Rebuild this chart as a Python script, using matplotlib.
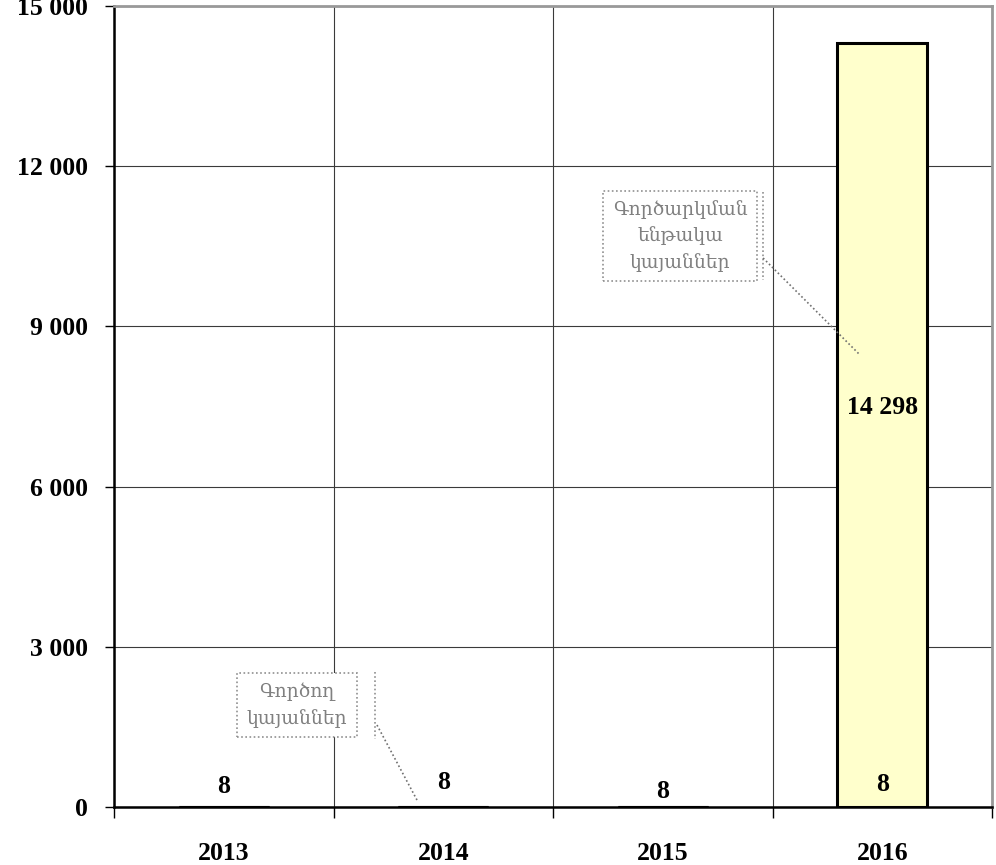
import matplotlib.pyplot as plt

years = ['2013', '2014', '2015', '2016']
gortsogh = [8, 8, 8, 8]               # Գործող կայաններ
gortsarkman = [0, 0, 0, 14298]        # Գործարկման ենթակա կայաններ
y_ticks = [0, 3000, 6000, 9000, 12000, 15000]

def fmt(v):
    return f"{v:,}".replace(',', ' ')

fig = plt.figure(figsize=(9.96, 8.65), dpi=100)
ax = fig.add_axes([0.1145, 0.067, 0.8815, 0.926])

x = range(len(years))
fill = '#FFFFCC'
ax.bar(x, gortsogh, width=0.41, color=fill, edgecolor='black', linewidth=2.2, zorder=3)
ax.bar(x, gortsarkman, width=0.41, bottom=gortsogh, color=fill, edgecolor='black', linewidth=2.2, zorder=3)

ax.set_xlim(-0.5, 3.5)
ax.set_ylim(0, 15000)

lab_font = dict(family=['Liberation Serif', 'DejaVu Serif'], weight='bold', size=18.5)

# y axis
ax.set_yticks(y_ticks)
ax.set_yticklabels([fmt(v) for v in y_ticks], **lab_font)
ax.tick_params(axis='y', direction='out', length=6.5, width=1, pad=12)

# x axis: ticks on category borders, labels on categories
ax.set_xticks([-0.5, 0.5, 1.5, 2.5, 3.5])
ax.set_xticklabels([])
ax.set_xticks(list(x), minor=True)
ax.set_xticklabels(years, minor=True, **lab_font)
ax.tick_params(axis='x', which='major', direction='out', length=8, width=1)
ax.tick_params(axis='x', which='minor', length=0, pad=25)

ax.grid(True, which='major', color='#3a3a3a', linewidth=0.8, zorder=0)
ax.set_axisbelow(True)

for side in ['left', 'bottom']:
    ax.spines[side].set_color('black')
    ax.spines[side].set_linewidth(1.8)
for side in ['top', 'right']:
    ax.spines[side].set_color('#999999')
    ax.spines[side].set_linewidth(2)

# data labels
offsets = [20, 24, 15, 22]
for i, v in enumerate(gortsogh):
    ax.annotate(str(v), (i, v), xytext=(0, offsets[i] / 1.389), textcoords='offset points',
                ha='center', va='center', **lab_font)
ax.text(3, 7490, fmt(gortsarkman[3]), ha='center', va='center', **lab_font)

# series name callouts
note_font = dict(family=['DejaVu Serif', 'DejaVu Sans'], size=13.5, color='#808080')
dots = (0, (1, 1.5))
box = dict(boxstyle='square,pad=0.5', facecolor='white', edgecolor='#909090',
           linestyle=dots, linewidth=1.2)
ax.text(2.079, 10693, 'Գործարկման\nենթակա\nկայաններ', ha='center', va='center',
        linespacing=1.5, bbox=box, zorder=5, **note_font)
ax.plot([2.457, 2.457], [11517, 9869], color='#909090', linestyle=dots, linewidth=1.2, zorder=5)
ax.plot([2.457, 2.899], [10281, 8464], color='#707070', linestyle=dots,
        linewidth=1.2, zorder=5)
ax.text(0.334, 1910, 'Գործող\nկայաններ', ha='center', va='center',
        linespacing=1.5, bbox=box, zorder=5, **note_font)
ax.plot([0.689, 0.689], [2528, 1273], color='#909090', linestyle=dots, linewidth=1.2, zorder=5)
ax.plot([0.698, 0.885], [1536, 94], color='#707070', linestyle=dots,
        linewidth=1.2, zorder=5)

fig.savefig('out.png', dpi=100)
